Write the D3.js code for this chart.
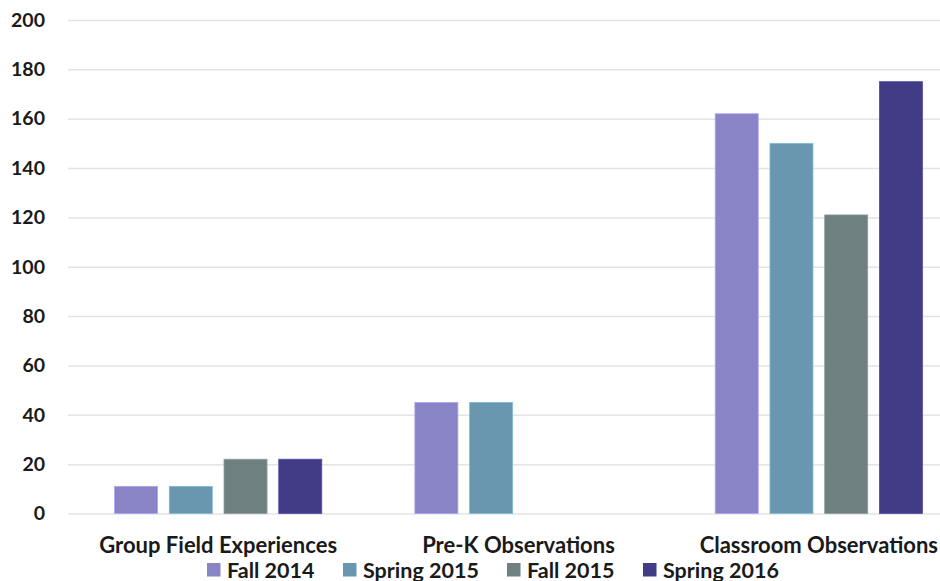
<!DOCTYPE html>
<html>
<head>
<meta charset="utf-8">
<script src="https://cdn.jsdelivr.net/npm/d3@7"></script>
<style>
  html, body { margin: 0; padding: 0; background: #fff; }
  svg { display: block; }
  text { font-family: Lato, "Open Sans", sans-serif; font-weight: 700; fill: #1a1a1a; }
</style>
</head>
<body>
<div id="chart"></div>
<script>
// Chart data
const categories = ['Group Field Experiences', 'Pre-K Observations', 'Classroom Observations'];
const seriesNames = ['Fall 2014', 'Spring 2015', 'Fall 2015', 'Spring 2016'];
const fall2014 = [11, 45, 162];
const spring2015 = [11, 45, 150];
const fall2015 = [22, 0, 121];
const spring2016 = [22, 0, 175];
const yTicks = [0, 20, 40, 60, 80, 100, 120, 140, 160, 180, 200];

const seriesValues = [fall2014, spring2015, fall2015, spring2016];
const colors = ['#8884c6', '#6897af', '#6e8080', '#413c85'];

const width = 940, height = 581;
// plot runs past the right edge, the reference is cropped there
const margin = { top: 20, right: -29, bottom: 67.5, left: 68 };

const svg = d3.select('#chart').append('svg')
    .attr('width', width)
    .attr('height', height);

const x0 = d3.scaleBand()
    .domain(categories)
    .range([margin.left, width - margin.right])
    .paddingInner(0.271)
    .paddingOuter(0.1355);

const x1 = d3.scaleBand()
    .domain(seriesNames)
    .range([0, x0.bandwidth()])
    .paddingInner(0.214)
    .paddingOuter(0.107);

const y = d3.scaleLinear()
    .domain([0, 200])
    .range([height - margin.bottom, margin.top]);

// Gridlines + y labels
const yAxis = d3.axisLeft(y)
    .tickValues(yTicks)
    .tickSize(-(width - margin.left))
    .tickPadding(23);

svg.append('g')
    .attr('class', 'y-axis')
    .attr('transform', `translate(${margin.left},0)`)
    .call(yAxis)
    .call(g => g.select('.domain').remove())
    .call(g => g.selectAll('.tick line').attr('stroke', '#e4e4e4').attr('stroke-width', 1.5))
    .call(g => g.selectAll('.tick text')
        .attr('font-size', 19.5)
        .attr('fill', '#1a1a1a'));

// Bars
const rows = categories.map((c, i) => ({
    category: c,
    values: seriesNames.map((s, j) => ({ series: s, value: seriesValues[j][i], color: colors[j] }))
}));

const groups = svg.append('g').selectAll('g')
    .data(rows)
    .join('g')
    .attr('transform', d => `translate(${x0(d.category)},0)`);

groups.selectAll('rect')
    .data(d => d.values.filter(v => v.value > 0))
    .join('rect')
    .attr('x', d => x1(d.series))
    .attr('y', d => y(d.value))
    .attr('width', x1.bandwidth())
    .attr('height', d => y(0) - y(d.value))
    .attr('fill', d => d.color)
    .attr('stroke', d => d3.color(d.color).brighter(0.6))
    .attr('stroke-width', 0.8);

// Category labels
const xAxis = d3.axisBottom(x0).tickSize(0).tickPadding(23.5);
svg.append('g')
    .attr('class', 'x-axis')
    .attr('transform', `translate(0,${y(0)})`)
    .call(xAxis)
    .call(g => g.select('.domain').remove())
    .call(g => g.selectAll('.tick text')
        .attr('font-size', 22)
        .attr('fill', '#1a1a1a'));

// Legend
const legendX = [207, 343, 507, 643];
const legend = svg.append('g').attr('class', 'legend');
const items = legend.selectAll('g')
    .data(seriesNames)
    .join('g')
    .attr('transform', (d, i) => `translate(${legendX[i]},563)`);

items.append('rect')
    .attr('width', 13.5)
    .attr('height', 13.5)
    .attr('fill', (d, i) => colors[i]);

items.append('text')
    .attr('x', 20)
    .attr('y', 14.5)
    .attr('font-size', 21.5)
    .text(d => d);
</script>
</body>
</html>
